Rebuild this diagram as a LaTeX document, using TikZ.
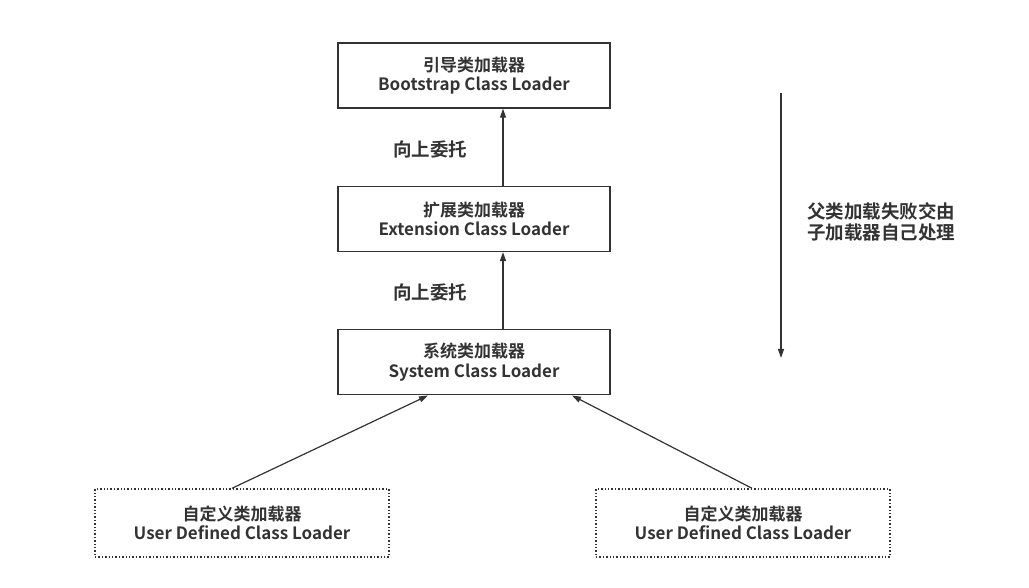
\documentclass[tikz,border=0pt]{standalone}
\usepackage{fontspec}
\setmainfont{Noto Sans CJK SC}[BoldFont={Noto Sans CJK SC Bold}]
\usetikzlibrary{positioning,arrows.meta}
\definecolor{ink}{HTML}{333333}

\begin{document}
\begin{tikzpicture}[x=1pt,y=1pt,
    loader/.style={draw=ink,line width=1.4pt,minimum width=272pt,minimum height=65pt,inner sep=0pt,align=center,text=ink,font=\bfseries\fontsize{17}{19.5}\selectfont},
    userloader/.style={loader,dotted,minimum width=294pt,minimum height=68pt},
    note/.style={text=ink,align=center,font=\bfseries\fontsize{18.5}{20.5}\selectfont},
    arr/.style={draw=ink,line width=1.2pt,-{Triangle[length=9pt,width=6pt]}},
    node distance=77pt
    ]
   \useasboundingbox (0,0) rectangle (1029,587);

   \node(boot) [loader] at (474,511.5) {引导类加载器\\Bootstrap Class Loader};
   \node(ext) [loader,below=of boot] {扩展类加载器\\Extension Class Loader};
   \node(sys) [loader,below=of ext] {系统类加载器\\System Class Loader};

   \node(user1) [userloader] at (242,64) {自定义类加载器\\User Defined Class Loader};
   \node(user2) [userloader] at (743,64) {自定义类加载器\\User Defined Class Loader};

   % delegate upwards
   \draw[arr] ([xshift=29pt]ext.north) -- ([xshift=29pt]boot.south);
   \draw[arr] ([xshift=29pt]sys.north) -- ([xshift=29pt]ext.south);
   \node(up1) [note] at (430,438) {向上委托};
   \node(up2) [note] at (430,295) {向上委托};

   \draw[arr] ([xshift=-10pt]user1.north) -- ([xshift=-46pt]sys.south);
   \draw[arr] ([xshift=9pt]user2.north) -- ([xshift=98pt]sys.south);

   % child loads itself
   \coordinate(top) at (781,494);
   \coordinate(bottom) at (781,229);
   \draw[arr] (top) -- (bottom);
   \node(back) [note] at (881,365) {父类加载失败交由\\子加载器自己处理};

  \end{tikzpicture}
\end{document}
